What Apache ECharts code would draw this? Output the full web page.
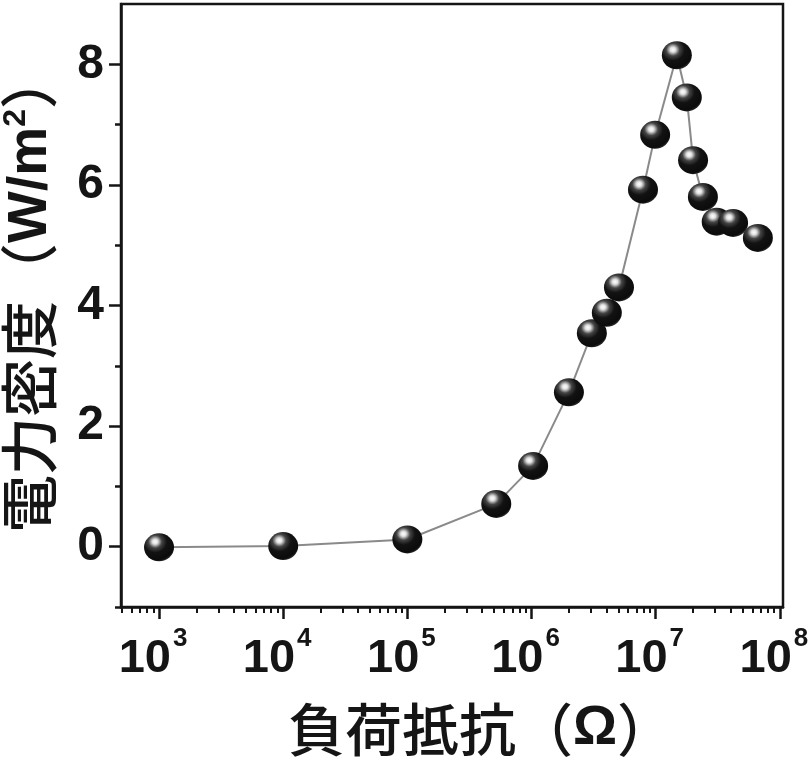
<!DOCTYPE html>
<html>
<head>
<meta charset="utf-8">
<script src="https://cdn.jsdelivr.net/npm/echarts@6/dist/echarts.min.js"></script>
<style>
html,body{margin:0;padding:0;background:#fff;}
#c{width:808px;height:763px;}
</style>
</head>
<body>
<div id="c"></div>
<script>
// Load resistance (Ω) and power density (W/m²)
var resistance = [1e3, 1e4, 1e5, 5.2e5, 1.03e6, 2.0e6, 3.06e6, 4.04e6, 5.06e6, 7.9e6, 9.9e6, 1.48e7, 1.78e7, 2.0e7, 2.4e7, 3.1e7, 4.2e7, 6.65e7];
var powerDensity = [-0.01, 0.01, 0.12, 0.71, 1.34, 2.56, 3.54, 3.88, 4.30, 5.92, 6.83, 8.15, 7.45, 6.41, 5.80, 5.39, 5.37, 5.12];
var xDecades = [3, 4, 5, 6, 7, 8];
var yMajor = [0, 2, 4, 6, 8];
var yMinor = [-1, 1, 3, 5, 7];
var xTitle = '負荷抵抗';
var yTitle = '電力密度';

var xMin = Math.log10(494), xMax = Math.log10(1.06e8);
var xMinor = [];
for (var d = 2; d <= 7; d++) {
  for (var k = 2; k <= 9; k++) {
    var lv = d + Math.log10(k);
    if (lv > xMin && lv < xMax) xMinor.push(lv);
  }
}
var pts = resistance.map(function (r, i) { return [Math.log10(r), powerDensity[i]]; });

var chart = echarts.init(document.getElementById('c'), null, {renderer: 'canvas'});
var num = 'Liberation Sans';
var cjk = '"Noto Sans CJK JP"';
var ink = '#151515';
var sphere = {
  type: 'radial', x: 0.37, y: 0.3, r: 0.75,
  colorStops: [
    {offset: 0, color: '#ffffff'},
    {offset: 0.12, color: '#e0e0e0'},
    {offset: 0.3, color: '#444'},
    {offset: 0.52, color: '#121212'},
    {offset: 0.88, color: '#0b0b0b'},
    {offset: 1, color: '#333'}
  ]
};
chart.setOption({
  animation: false,
  backgroundColor: '#fff',
  grid: {left: 121, right: 25, top: 4, bottom: 156, show: true, borderColor: ink, borderWidth: 2.5, outerBoundsMode: 'none'},
  xAxis: [{
    type: 'value', min: xMin, max: xMax,
    splitLine: {show: false},
    axisLine: {onZero: false, lineStyle: {color: ink, width: 2.5}},
    axisTick: {customValues: xDecades, length: 12, lineStyle: {color: ink, width: 2.5}},
    axisLabel: {
      customValues: xDecades, margin: 19,
      formatter: function (v) { return '{b|10}{s|' + Math.round(v) + '}'; },
      rich: {
        b: {fontFamily: num, fontWeight: 'bold', fontSize: 47, color: ink, verticalAlign: 'bottom', padding: [10, 0, 0, 0]},
        s: {fontFamily: num, fontWeight: 'bold', fontSize: 26, color: ink, verticalAlign: 'top', padding: [0, 12, 0, 2]}
      }
    }
  }, {
    type: 'value', min: xMin, max: xMax, position: 'bottom',
    splitLine: {show: false},
    axisLine: {show: false, onZero: false},
    axisTick: {customValues: xMinor, length: 6, lineStyle: {color: ink, width: 2}},
    axisLabel: {show: false}
  }],
  yAxis: [{
    type: 'value', min: -1, max: 9,
    splitLine: {show: false},
    axisLine: {onZero: false, lineStyle: {color: ink, width: 2.5}},
    axisTick: {customValues: yMajor, length: 12, lineStyle: {color: ink, width: 2.5}},
    axisLabel: {customValues: yMajor, margin: 17, fontFamily: num, fontWeight: 'bold', fontSize: 48, color: ink}
  }, {
    type: 'value', min: -1, max: 9, position: 'left',
    splitLine: {show: false},
    axisLine: {show: false, onZero: false},
    axisTick: {customValues: yMinor, length: 6, lineStyle: {color: ink, width: 2.5}},
    axisLabel: {show: false}
  }],
  graphic: [{
    type: 'text', x: 481, y: 729,
    style: {
      text: '{c|' + xTitle + '（}{o|Ω}{c|）}',
      align: 'center', verticalAlign: 'middle',
      rich: {
        c: {fontFamily: cjk, fontSize: 57, fontWeight: 500, fill: ink},
        o: {fontFamily: num, fontSize: 55, fontWeight: 'bold', fill: ink}
      }
    }
  }, {
    type: 'text', x: 29, y: 292, rotation: Math.PI / 2,
    style: {
      text: '{c|' + yTitle + '（}{o|W/m}{s|2}{c|）}',
      align: 'center', verticalAlign: 'middle',
      rich: {
        c: {fontFamily: cjk, fontSize: 58, fontWeight: 500, fill: ink, verticalAlign: 'bottom'},
        o: {fontFamily: num, fontSize: 55, fontWeight: 'bold', fill: ink, verticalAlign: 'bottom'},
        s: {fontFamily: num, fontSize: 32, fontWeight: 'bold', fill: ink, verticalAlign: 'top'}
      }
    }
  }],
  series: [{
    type: 'line', data: pts,
    xAxisIndex: 0, yAxisIndex: 0,
    symbol: 'circle', symbolSize: [30, 28],
    lineStyle: {color: '#8a8a8a', width: 2},
    itemStyle: {color: sphere, borderWidth: 0},
    emphasis: {disabled: true}
  }]
});
</script>
</body>
</html>
